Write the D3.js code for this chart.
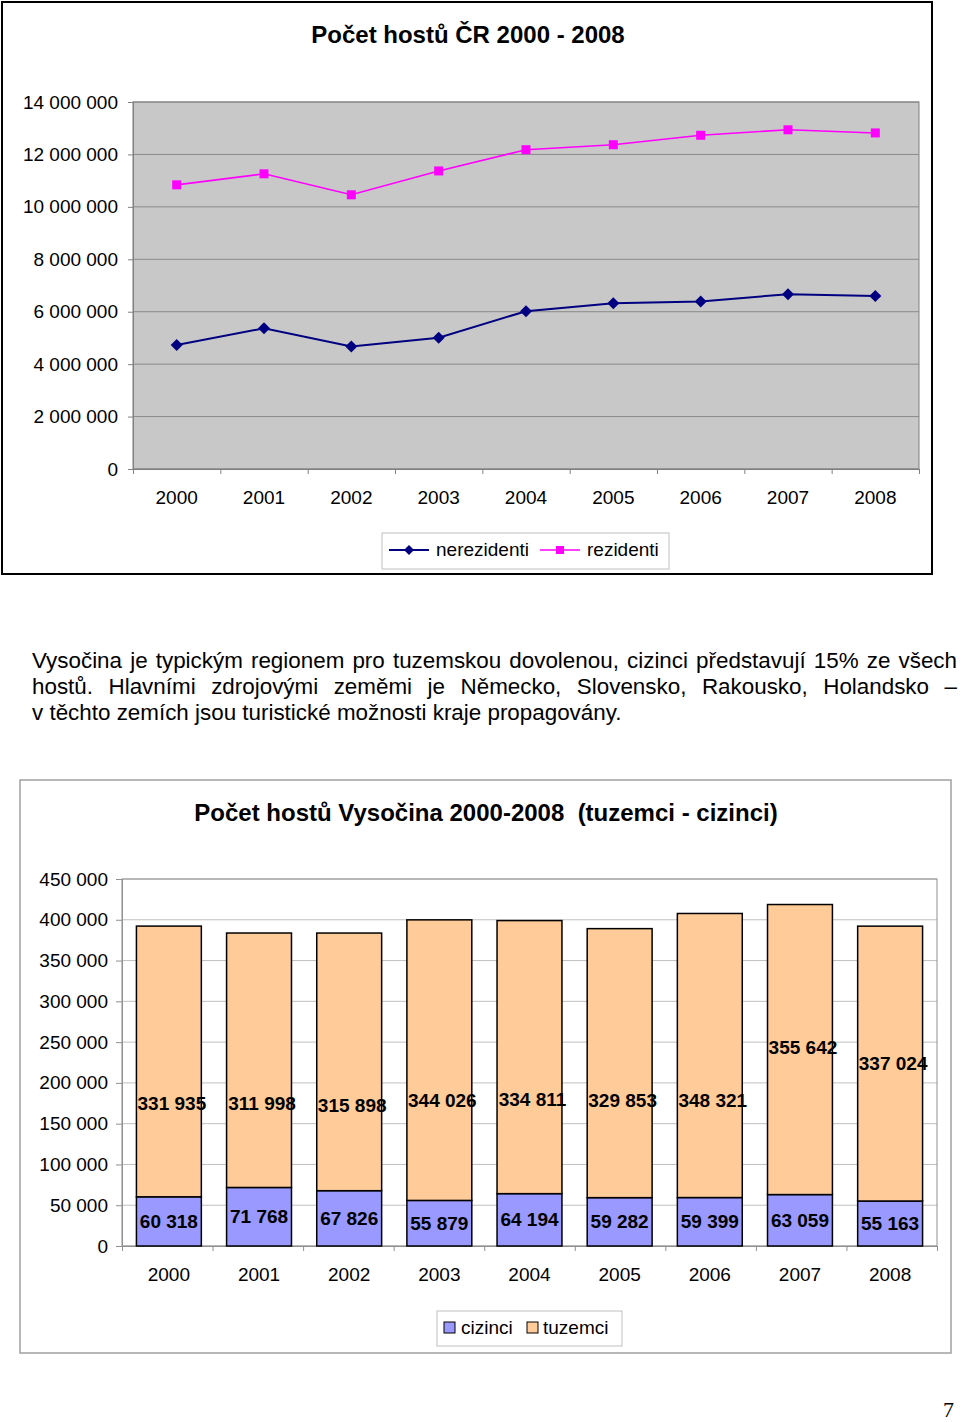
<!DOCTYPE html>
<html>
<head>
<meta charset="utf-8">
<script src="https://cdn.jsdelivr.net/npm/d3@7"></script>
<style>
  body { margin: 0; background: #fff; }
  svg { display: block; font-family: Arial, "Liberation Sans", sans-serif; }
</style>
</head>
<body>
<svg id="page" width="960" height="1422"></svg>
<script>
// --- data ---
const years = ['2000', '2001', '2002', '2003', '2004', '2005', '2006', '2007', '2008'];

// top chart: guests in CR
const nerezidenti = [4730000, 5370000, 4670000, 5010000, 6020000, 6320000, 6390000, 6670000, 6600000];
const rezidenti = [10840000, 11260000, 10460000, 11370000, 12180000, 12370000, 12730000, 12940000, 12820000];
const topTicks = [0, 2000000, 4000000, 6000000, 8000000, 10000000, 12000000, 14000000];

// bottom chart: Vysocina
const cizinci = [60318, 71768, 67826, 55879, 64194, 59282, 59399, 63059, 55163];
const tuzemci = [331935, 311998, 315898, 344026, 334811, 329853, 348321, 355642, 337024];
const bottomTicks = [0, 50000, 100000, 150000, 200000, 250000, 300000, 350000, 400000, 450000];
// where the tuzemci labels were dragged to (in axis units)
const tuzemciLabelAt = [175000, 175000, 173000, 178000, 180000, 179000, 178000, 243000, 224000];

const paragraphLines = [
  'Vysočina je typickým regionem pro tuzemskou dovolenou, cizinci představují 15% ze všech',
  'hostů. Hlavními zdrojovými zeměmi je Německo, Slovensko, Rakousko, Holandsko –',
  'v těchto zemích jsou turistické možnosti kraje propagovány.'
];

const cs = d3.formatLocale({ decimal: ',', thousands: '\u00a0', grouping: [3], currency: ['', ' Kč'] });
const fmt = cs.format(',');

const svg = d3.select('#page');

// ================= top chart =================
svg.append('rect')
  .attr('x', 2).attr('y', 2).attr('width', 930).attr('height', 572)
  .attr('fill', '#fff').attr('stroke', '#000').attr('stroke-width', 2);

svg.append('text')
  .attr('x', 468).attr('y', 43)
  .attr('text-anchor', 'middle')
  .attr('font-size', 24).attr('font-weight', 'bold')
  .text('Počet hostů ČR 2000 - 2008');

const tx = d3.scaleBand().domain(years).range([133, 919]);
const ty = d3.scaleLinear().domain([0, 14000000]).range([469, 102]);

svg.append('rect')
  .attr('x', 133).attr('y', 102).attr('width', 786).attr('height', 367)
  .attr('fill', '#c8c8c8');

svg.append('g').selectAll('line')
  .data(topTicks)
  .join('line')
  .attr('x1', 133).attr('x2', 919)
  .attr('y1', d => ty(d)).attr('y2', d => ty(d))
  .attr('stroke', '#8a8a8a').attr('stroke-width', 1);

svg.append('rect')
  .attr('x', 133).attr('y', 102).attr('width', 786).attr('height', 367)
  .attr('fill', 'none').attr('stroke', '#808080');

const topY = svg.append('g')
  .attr('transform', 'translate(133,0)')
  .call(d3.axisLeft(ty).tickValues(topTicks).tickSize(5).tickPadding(10).tickFormat(fmt));
topY.select('.domain').attr('stroke', '#808080');
topY.selectAll('line').attr('stroke', '#808080');
topY.selectAll('text').attr('font-size', 19).attr('font-family', null).attr('fill', '#000');

const topTickX = d3.scaleLinear().domain([0, years.length]).range([133, 919]);
const topXt = svg.append('g')
  .attr('transform', 'translate(0,469)')
  .call(d3.axisBottom(topTickX).tickValues(d3.range(years.length + 1)).tickSize(5).tickFormat(''));
topXt.select('.domain').attr('stroke', '#808080');
topXt.selectAll('line').attr('stroke', '#808080');

const topXl = svg.append('g')
  .attr('transform', 'translate(0,469)')
  .call(d3.axisBottom(tx).tickSize(0).tickPadding(22));
topXl.select('.domain').remove();
topXl.selectAll('text').attr('font-size', 19).attr('font-family', null).attr('fill', '#000');

const cx = d => tx(d) + tx.bandwidth() / 2;
const diamond = 'M0,-6L6,0L0,6L-6,0Z';
const square = 'M-4.5,-4.5H4.5V4.5H-4.5Z';

const lineNer = d3.line().x((d, i) => cx(years[i])).y(d => ty(d));

svg.append('path').datum(nerezidenti)
  .attr('d', lineNer).attr('fill', 'none')
  .attr('stroke', '#000080').attr('stroke-width', 2);
svg.append('g').selectAll('path')
  .data(nerezidenti).join('path')
  .attr('d', diamond)
  .attr('transform', (d, i) => `translate(${cx(years[i])},${ty(d)})`)
  .attr('fill', '#000080');

svg.append('path').datum(rezidenti)
  .attr('d', lineNer).attr('fill', 'none')
  .attr('stroke', '#ff00ff').attr('stroke-width', 1.6);
svg.append('g').selectAll('path')
  .data(rezidenti).join('path')
  .attr('d', square)
  .attr('transform', (d, i) => `translate(${cx(years[i])},${ty(d)})`)
  .attr('fill', '#ff00ff');

// legend
const lg = svg.append('g');
lg.append('rect')
  .attr('x', 382).attr('y', 533).attr('width', 287).attr('height', 36)
  .attr('fill', '#fff').attr('stroke', '#c0c0c0');
lg.append('line').attr('x1', 389).attr('x2', 429).attr('y1', 550).attr('y2', 550)
  .attr('stroke', '#000080').attr('stroke-width', 2);
lg.append('path').attr('d', 'M0,-5L5,0L0,5L-5,0Z').attr('transform', 'translate(409,550)').attr('fill', '#000080');
lg.append('text').attr('x', 436).attr('y', 556).attr('font-size', 19).text('nerezidenti');
lg.append('line').attr('x1', 540).attr('x2', 580).attr('y1', 550).attr('y2', 550)
  .attr('stroke', '#ff00ff').attr('stroke-width', 1.6);
lg.append('path').attr('d', 'M-4,-4H4V4H-4Z').attr('transform', 'translate(560,550)').attr('fill', '#ff00ff');
lg.append('text').attr('x', 587).attr('y', 556).attr('font-size', 19).text('rezidenti');

// ================= paragraph =================
const para = svg.append('g').attr('font-size', 22.4);
paragraphLines.forEach((t, i) => {
  const el = para.append('text')
    .attr('x', 32).attr('y', 668 + i * 26)
    .text(t);
  if (i < paragraphLines.length - 1) {
    const natural = el.node().getComputedTextLength();
    const spaces = t.split(' ').length - 1;
    el.attr('word-spacing', (925 - natural) / spaces);
  }
});

// ================= bottom chart =================
svg.append('rect')
  .attr('x', 20).attr('y', 780).attr('width', 931).attr('height', 573)
  .attr('fill', '#fff').attr('stroke', '#a0a0a0').attr('stroke-width', 1.5);

svg.append('text')
  .attr('x', 486).attr('y', 821)
  .attr('text-anchor', 'middle')
  .attr('font-size', 24).attr('font-weight', 'bold')
  .style('white-space', 'pre')
  .text('Počet hostů Vysočina 2000-2008  (tuzemci - cizinci)');

const bx = d3.scaleBand().domain(years).range([122, 937]).paddingInner(0.28).paddingOuter(0.16);
const by = d3.scaleLinear().domain([0, 450000]).range([1246, 879]);

svg.append('g').selectAll('line')
  .data(bottomTicks)
  .join('line')
  .attr('x1', 122).attr('x2', 937)
  .attr('y1', d => by(d)).attr('y2', d => by(d))
  .attr('stroke', '#c0c0c0');

svg.append('rect')
  .attr('x', 122).attr('y', 879).attr('width', 815).attr('height', 367)
  .attr('fill', 'none').attr('stroke', '#909090');

const botY = svg.append('g')
  .attr('transform', 'translate(122,0)')
  .call(d3.axisLeft(by).tickValues(bottomTicks).tickSize(6).tickPadding(8).tickFormat(fmt));
botY.select('.domain').attr('stroke', '#909090');
botY.selectAll('line').attr('stroke', '#909090');
botY.selectAll('text').attr('font-size', 19).attr('font-family', null).attr('fill', '#000');

const botTickX = d3.scaleLinear().domain([0, years.length]).range([122, 937]);
const botXt = svg.append('g')
  .attr('transform', 'translate(0,1246)')
  .call(d3.axisBottom(botTickX).tickValues(d3.range(years.length + 1)).tickSize(5).tickFormat(''));
botXt.select('.domain').attr('stroke', '#909090');
botXt.selectAll('line').attr('stroke', '#909090');

const botXl = svg.append('g')
  .attr('transform', 'translate(0,1246)')
  .call(d3.axisBottom(bx).tickSize(0).tickPadding(22));
botXl.select('.domain').remove();
botXl.selectAll('text').attr('font-size', 19).attr('font-family', null).attr('fill', '#000');

const stacked = years.map((y, i) => ({ year: y, c: cizinci[i], t: tuzemci[i] }));

const bars = svg.append('g');
bars.selectAll('rect.cz')
  .data(stacked).join('rect')
  .attr('class', 'cz')
  .attr('x', d => bx(d.year)).attr('width', bx.bandwidth())
  .attr('y', d => by(d.c)).attr('height', d => by(0) - by(d.c))
  .attr('fill', '#9999ff').attr('stroke', '#000').attr('stroke-width', 1.5);
bars.selectAll('rect.tz')
  .data(stacked).join('rect')
  .attr('class', 'tz')
  .attr('x', d => bx(d.year)).attr('width', bx.bandwidth())
  .attr('y', d => by(d.c + d.t)).attr('height', d => by(d.c) - by(d.c + d.t))
  .attr('fill', '#ffcc99').attr('stroke', '#000').attr('stroke-width', 1.5);

const labels = svg.append('g')
  .attr('font-size', 19).attr('font-weight', 'bold')
  .attr('text-anchor', 'middle');
labels.selectAll('text.cz')
  .data(stacked).join('text')
  .attr('class', 'cz')
  .attr('x', d => bx(d.year) + bx.bandwidth() / 2)
  .attr('y', d => by(d.c / 2)).attr('dy', '0.35em')
  .text(d => fmt(d.c));
labels.selectAll('text.tz')
  .data(stacked).join('text')
  .attr('class', 'tz')
  .attr('x', d => bx(d.year) + bx.bandwidth() / 2 + 3)
  .attr('y', (d, i) => by(tuzemciLabelAt[i])).attr('dy', '0.35em')
  .text(d => fmt(d.t));

// legend
const lg2 = svg.append('g');
lg2.append('rect')
  .attr('x', 437).attr('y', 1311).attr('width', 185).attr('height', 35)
  .attr('fill', '#fff').attr('stroke', '#c0c0c0');
lg2.append('rect').attr('x', 444).attr('y', 1322).attr('width', 11).attr('height', 11)
  .attr('fill', '#9999ff').attr('stroke', '#000');
lg2.append('text').attr('x', 461).attr('y', 1334).attr('font-size', 19).text('cizinci');
lg2.append('rect').attr('x', 527).attr('y', 1322).attr('width', 11).attr('height', 11)
  .attr('fill', '#ffcc99').attr('stroke', '#000');
lg2.append('text').attr('x', 543).attr('y', 1334).attr('font-size', 19).text('tuzemci');

// page number
svg.append('text')
  .attr('x', 954).attr('y', 1417)
  .attr('text-anchor', 'end')
  .attr('font-family', '"Liberation Serif", "DejaVu Serif", serif')
  .attr('font-size', 22)
  .text('7');
</script>
</body>
</html>
